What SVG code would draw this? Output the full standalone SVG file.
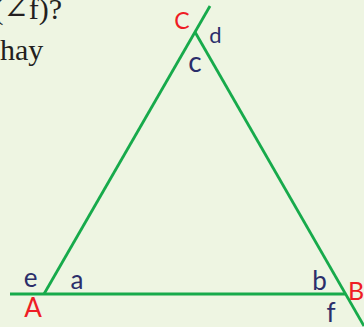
<svg xmlns="http://www.w3.org/2000/svg" width="364" height="327" viewBox="0 0 364 327">
  <style>
    .bg { fill: #eef5e2; }
    .ln { stroke: #17aa4b; stroke-width: 2.8; fill: none; stroke-linecap: butt; }
    .q { font-family: "Liberation Serif", "DejaVu Serif", serif; font-size: 30px; fill: #231f20; }
    .v { font-family: Lato, "Liberation Sans", sans-serif; fill: #ee1d25; text-anchor: middle; }
    .g { font-family: Lato, "Liberation Sans", sans-serif; fill: #2b2e6a; text-anchor: middle; }
  </style>
  <rect class="bg" x="0" y="0" width="364" height="327"/>

  <g id="question-text">
    <text class="q" x="62" y="19" text-anchor="end">(∠f)?</text>
    <text class="q" x="0" y="60">hay</text>
  </g>

  <g id="connectors">
    <line class="ln" x1="10" y1="294" x2="346" y2="294"/>
    <line class="ln" x1="44" y1="294" x2="210" y2="6"/>
    <line class="ln" x1="195" y1="32" x2="364" y2="326"/>
  </g>

  <g id="vertex-A">
    <text class="v" x="33" y="317" font-size="26">A</text>
  </g>
  <g id="vertex-B">
    <text class="v" x="356" y="300" font-size="25" text-anchor="start">B</text>
  </g>
  <g id="vertex-C">
    <text class="v" x="182" y="29" font-size="23">C</text>
  </g>

  <g id="angle-a"><text class="g" x="77" y="289" font-size="26">a</text></g>
  <g id="angle-b"><text class="g" x="319.5" y="290" font-size="26">b</text></g>
  <g id="angle-c"><text class="g" x="195" y="72" font-size="28">c</text></g>
  <g id="angle-d"><text class="g" x="215.5" y="43" font-size="22">d</text></g>
  <g id="angle-e"><text class="g" x="30.5" y="287" font-size="26">e</text></g>
  <g id="angle-f"><text class="g" x="331" y="322" font-size="26">f</text></g>
</svg>
